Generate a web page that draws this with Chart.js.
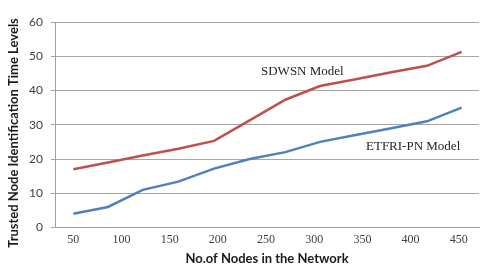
<!DOCTYPE html>
<html>
<head>
<meta charset="utf-8">
<script src="https://cdn.jsdelivr.net/npm/chart.js@4"></script>
<style>
  html, body { margin: 0; padding: 0; background: #fff; }
  #wrap { width: 480px; height: 274px; }
</style>
</head>
<body>
<div id="wrap"><canvas id="nodesChart" width="480" height="274"></canvas></div>
<script>
// values
const nodes = [50, 86, 122, 159, 196, 233, 270, 306, 343, 380, 417, 453];
const sdwsn = [17, 19, 21, 23, 25.3, 31.3, 37.3, 41.3, 43.3, 45.3, 47.2, 51.3];
const etfri = [4, 6, 11, 13.4, 17.2, 20, 22, 25, 27, 29, 31, 35];
const xTicks = [50, 100, 150, 200, 250, 300, 350, 400, 450];

const xTitle = 'No.of Nodes in the Network';
const yTitle = 'Trusted Node Identification Time Levels';
const labelNotes = [
    { text: 'SDWSN Model', x: 261, y: 72 },
    { text: 'ETFRI-PN Model', x: 366, y: 147 }
];

const notesPlugin = {
    id: 'notes',
    afterDraw(chart) {
        const ctx = chart.ctx;
        ctx.save();
        ctx.font = '13px "Liberation Serif"';
        ctx.fillStyle = '#262626';
        ctx.textBaseline = 'middle';
        ctx.textAlign = 'left';
        labelNotes.forEach(n => ctx.fillText(n.text, n.x, n.y));

        ctx.fillStyle = '#1a1a1a';
        ctx.textAlign = 'center';
        ctx.font = 'bold 13px Lato';
        ctx.fillText(xTitle, 267, 259);

        ctx.translate(14, 133);
        ctx.rotate(-Math.PI / 2);
        ctx.fillText(yTitle, 0, 0);
        ctx.restore();
    }
};

const toPoints = ys => ys.map((y, i) => ({ x: nodes[i], y: y }));

const ctx = document.getElementById('nodesChart').getContext('2d');
const nodesChart = new Chart(ctx, {
    type: 'line',
    data: {
        datasets: [
            {
                label: 'SDWSN Model',
                borderColor: '#c0504d',
                data: toPoints(sdwsn),
                borderWidth: 2.5,
                pointRadius: 0,
                fill: false
            },
            {
                label: 'ETFRI-PN Model',
                borderColor: '#4f81bd',
                data: toPoints(etfri),
                borderWidth: 2.5,
                pointRadius: 0,
                fill: false
            }
        ]
    },
    options: {
        responsive: false,
        animation: false,
        layout: { padding: { left: 0, top: 22, right: 1, bottom: 0 } },
        plugins: { legend: { display: false }, tooltip: { enabled: false } },
        scales: {
            x: {
                type: 'linear',
                min: 31,
                max: 471,
                afterBuildTicks: scale => { scale.ticks = xTicks.map(v => ({ value: v })); },
                afterFit: scale => { scale.height = 46.5; },
                grid: { display: false, drawTicks: false },
                border: { color: '#a0a0a0' },
                ticks: {
                    padding: 5,
                    color: '#404040',
                    font: { family: '"Liberation Serif"', size: 12 }
                }
            },
            y: {
                min: 0,
                max: 60,
                ticks: {
                    stepSize: 10,
                    padding: 8,
                    color: '#404040',
                    font: { family: 'Lato', size: 12 }
                },
                afterFit: scale => { scale.width = 55; },
                grid: { color: '#a6a6a6', tickLength: 4 },
                border: { color: '#a0a0a0' }
            }
        }
    },
    plugins: [notesPlugin]
});
</script>
</body>
</html>
